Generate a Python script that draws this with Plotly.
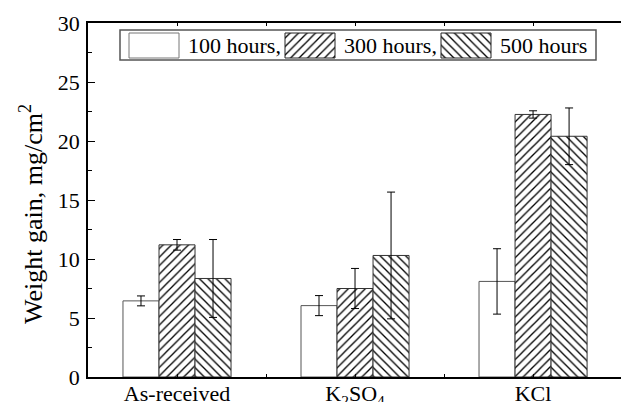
import plotly.graph_objects as go

# ---- data ----
categories = ["As-received", "K<sub>2</sub>SO<sub>4</sub>", "KCl"]
series_names = ["100 hours,", "300 hours,", "500 hours"]
h100 = [6.45, 6.05, 8.1]
h100_err = [0.42, 0.85, 2.77]
h300 = [11.2, 7.5, 22.25]
h300_err = [0.45, 1.7, 0.31]
h500 = [8.35, 10.3, 20.4]
h500_err = [3.3, 5.37, 2.4]
y_ticks = [0, 5, 10, 15, 20, 25, 30]

FONT = "Liberation Serif"
values = [h100, h300, h500]
errors = [h100_err, h300_err, h500_err]
shapes_pat = ["", "/", "\\"]
line_cols = ["#555555", "#333333", "#333333"]

xs = list(range(len(categories)))
fig = go.Figure()
for name, v, e, shp, lc in zip(series_names, values, errors, shapes_pat, line_cols):
    fig.add_trace(go.Bar(
        x=xs, y=v, name=name, showlegend=False,
        marker=dict(color="white", line=dict(color=lc, width=1),
                    pattern=dict(shape=shp, fgcolor="black", bgcolor="white",
                                 size=6, solidity=0.22, fgopacity=1)),
        error_y=dict(type="data", array=e, color="black", thickness=1, width=4),
    ))

# ---- custom legend drawn on a pixel-unit overlay axis ----
L, R, T, B = 88, 621, 23, 377
fig.add_trace(go.Bar(
    x=[154, 310, 466], y=[25, 25, 25], base=[33, 33, 33], width=50,
    xaxis="x2", yaxis="y2", showlegend=False, hoverinfo="skip",
    marker=dict(color="white",
                line=dict(color=["#777777", "#222222", "#222222"], width=1),
                pattern=dict(shape=shapes_pat, fgcolor="black", bgcolor="white",
                             size=6, solidity=0.22, fgopacity=1)),
))
legend_text_x = [186, 342, 498]
annotations = []
for tx, name in zip(legend_text_x, series_names):
    annotations.append(dict(x=tx, y=45.5, xref="x2", yref="y2", text=name,
                            showarrow=False, xanchor="left", yanchor="middle",
                            font=dict(family=FONT, size=22, color="black")))
annotations.append(dict(x=(31 - L) / (R - L), y=(B - 214) / (B - T),
                        xref="paper", yref="paper",
                        text="Weight gain, mg/cm<sup>2</sup>", textangle=-90,
                        showarrow=False, xanchor="center", yanchor="middle",
                        font=dict(family=FONT, size=26, color="black")))

shapes = [
    dict(type="rect", xref="x2", yref="y2", x0=120, x1=596, y0=30, y1=60,
         line=dict(color="#555555", width=1.5), fillcolor="white", layer="below"),
]

fig.update_layout(
    width=621, height=402,
    margin=dict(l=L, r=621 - R, t=T, b=402 - B),
    paper_bgcolor="white", plot_bgcolor="white",
    barmode="group", bargap=0.393, bargroupgap=0,
    font=dict(family=FONT, size=22, color="black"),
    annotations=annotations, shapes=shapes,
    xaxis=dict(range=[-0.5, 2.494], tickvals=xs, ticktext=categories,
               showline=True, linecolor="black", linewidth=2, mirror="ticks",
               ticks="inside", ticklen=3, tickcolor="black", tickwidth=1,
               minor=dict(tickvals=[0.5, 1.5], ticks="inside", ticklen=3,
                          tickcolor="black"),
               showgrid=False, zeroline=False, automargin=False,
               ticklabelstandoff=-4,
               tickfont=dict(family=FONT, size=22, color="black")),
    yaxis=dict(range=[0, 30], tickvals=y_ticks,
               showline=True, linecolor="black", linewidth=1.5,
               ticks="inside", ticklen=7, tickcolor="black", tickwidth=1,
               minor=dict(dtick=2.5, ticks="inside", ticklen=4, tickcolor="black"),
               showgrid=False, zeroline=False, automargin=False, ticklabelstandoff=2,
               tickfont=dict(family=FONT, size=22, color="black")),
    xaxis2=dict(range=[L, R], overlaying="x", visible=False, fixedrange=True),
    yaxis2=dict(range=[B, T], overlaying="y", visible=False, fixedrange=True),
)

fig.write_html("out.html")
